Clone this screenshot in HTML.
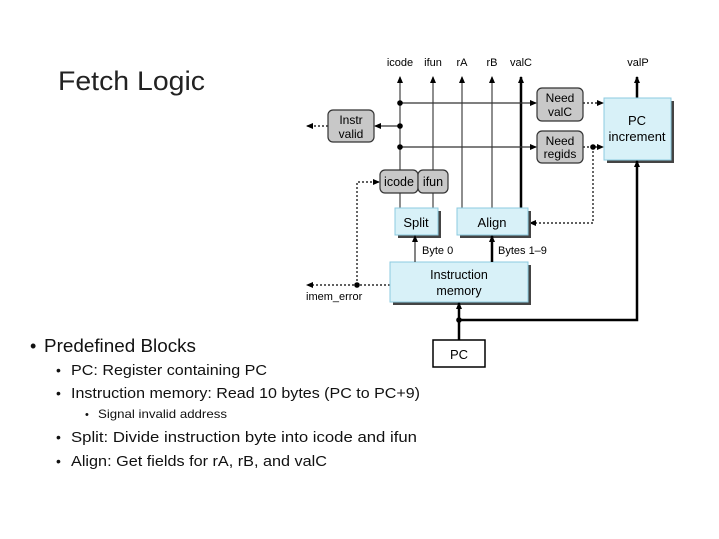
<!DOCTYPE html>
<html><head><style>
html,body{margin:0;padding:0;background:#fff;}
svg{display:block;}
</style></head><body>
<svg width="719" height="539" viewBox="0 0 719 539" xmlns="http://www.w3.org/2000/svg" font-family="Liberation Sans, Arial, sans-serif">
<defs>
<marker id="a" markerWidth="8" markerHeight="8" refX="6" refY="4" orient="auto" markerUnits="userSpaceOnUse"><path d="M0,1 L7,4 L0,7 z" fill="#000"/></marker>
</defs>
<rect width="719" height="539" fill="#fff"/>
<text x="58" y="90" font-size="27" textLength="147" lengthAdjust="spacingAndGlyphs" fill="#222">Fetch Logic</text>

<g fill="#111">
<text x="30" y="352" font-size="18">•</text>
<text x="44" y="352" font-size="18" textLength="152" lengthAdjust="spacingAndGlyphs">Predefined Blocks</text>
<text x="56" y="375" font-size="14">•</text>
<text x="71" y="375" font-size="15" textLength="196" lengthAdjust="spacingAndGlyphs">PC: Register containing PC</text>
<text x="56" y="398" font-size="14">•</text>
<text x="71" y="398" font-size="15" textLength="349" lengthAdjust="spacingAndGlyphs">Instruction memory: Read 10 bytes (PC to PC+9)</text>
<text x="85" y="418" font-size="11">•</text>
<text x="98" y="418" font-size="12" textLength="129" lengthAdjust="spacingAndGlyphs">Signal invalid address</text>
<text x="56" y="442" font-size="14">•</text>
<text x="71" y="442" font-size="15" textLength="346" lengthAdjust="spacingAndGlyphs">Split: Divide instruction byte into icode and ifun</text>
<text x="56" y="466" font-size="14">•</text>
<text x="71" y="466" font-size="15" textLength="256" lengthAdjust="spacingAndGlyphs">Align: Get fields for rA, rB, and valC</text>
</g>

<g font-size="11" text-anchor="middle" fill="#000">
<text x="400" y="66">icode</text><text x="433" y="66">ifun</text><text x="462" y="66">rA</text><text x="492" y="66">rB</text><text x="521" y="66">valC</text><text x="638" y="66">valP</text>
</g>

<g stroke="#444" stroke-width="1.2" marker-end="url(#a)">
<line x1="400" y1="208" x2="400" y2="77"/>
<line x1="433" y1="208" x2="433" y2="77"/>
<line x1="462" y1="208" x2="462" y2="77"/>
<line x1="492" y1="208" x2="492" y2="77"/>
</g>
<line x1="521" y1="208" x2="521" y2="77" stroke="#000" stroke-width="2.5" marker-end="url(#a)"/>
<line x1="637" y1="98" x2="637" y2="77" stroke="#000" stroke-width="2.5" marker-end="url(#a)"/>

<g stroke="#333" stroke-width="1.2">
<line x1="400" y1="103" x2="536" y2="103" marker-end="url(#a)"/>
<line x1="400" y1="126" x2="375" y2="126" marker-end="url(#a)"/>
<line x1="400" y1="147" x2="536" y2="147" marker-end="url(#a)"/>
</g>
<g fill="#000"><circle cx="400" cy="103" r="2.8"/><circle cx="400" cy="126" r="2.8"/><circle cx="400" cy="147" r="2.8"/></g>

<g stroke="#000" stroke-width="1.2" stroke-dasharray="2,2" fill="none">
<line x1="328" y1="126" x2="307" y2="126" marker-end="url(#a)"/>
<line x1="583" y1="103" x2="603" y2="103" marker-end="url(#a)"/>
<line x1="583" y1="147" x2="603" y2="147" marker-end="url(#a)"/>
<polyline points="593,147 593,223 530,223" marker-end="url(#a)"/>
<line x1="390" y1="285" x2="307" y2="285" marker-end="url(#a)"/>
<polyline points="357,285 357,182 379,182" marker-end="url(#a)"/>
</g>
<circle cx="593" cy="147" r="2.8"/><circle cx="357" cy="285" r="2.8"/>

<g fill="#c8c8c8" stroke="#333" stroke-width="1.2">
<rect x="537" y="88" width="46" height="33" rx="5"/>
<rect x="537" y="131" width="46" height="32" rx="5"/>
<rect x="328" y="110" width="46" height="32" rx="5"/>
<rect x="380" y="170" width="38" height="23" rx="5"/>
<rect x="418" y="170" width="30" height="23" rx="5"/>
</g>
<g font-size="12" text-anchor="middle">
<text x="560" y="102">Need</text><text x="560" y="116">valC</text>
<text x="560" y="145">Need</text><text x="560" y="158">regids</text>
<text x="351" y="124">Instr</text><text x="351" y="138">valid</text>
<text x="399" y="186" font-size="12.5">icode</text><text x="433" y="186" font-size="12.5">ifun</text>
</g>

<g fill="#444">
<rect x="607" y="101" width="67" height="62"/>
<rect x="398" y="211" width="43" height="27"/>
<rect x="460" y="211" width="71" height="27"/>
<rect x="393" y="265" width="138" height="40"/>
</g>
<g fill="#d8f1f8" stroke="#8ccbe0" stroke-width="1">
<rect x="604" y="98" width="67" height="62"/>
<rect x="395" y="208" width="43" height="27"/>
<rect x="457" y="208" width="71" height="27"/>
<rect x="390" y="262" width="138" height="40"/>
</g>
<g font-size="13" text-anchor="middle">
<text x="637" y="125">PC</text><text x="637" y="141">increment</text>
<text x="416" y="227">Split</text><text x="492" y="227">Align</text>
<text x="459" y="279" font-size="12.5">Instruction</text><text x="459" y="295" font-size="12.5">memory</text>
</g>

<line x1="415" y1="262" x2="415" y2="236" stroke="#333" stroke-width="1.2" marker-end="url(#a)"/>
<line x1="492" y1="262" x2="492" y2="236" stroke="#000" stroke-width="2.5" marker-end="url(#a)"/>
<text x="422" y="254" font-size="11">Byte 0</text>
<text x="498" y="254" font-size="11">Bytes 1–9</text>
<text x="306" y="300" font-size="11">imem_error</text>

<rect x="433" y="340" width="52" height="27" fill="#fff" stroke="#000" stroke-width="1.5"/>
<text x="459" y="359" font-size="13" text-anchor="middle">PC</text>
<line x1="459" y1="340" x2="459" y2="303" stroke="#000" stroke-width="2.5" marker-end="url(#a)"/>
<polyline points="459,320 637,320 637,161" fill="none" stroke="#000" stroke-width="2.5" marker-end="url(#a)"/>
<circle cx="459" cy="320" r="2.8"/>
</svg>
</body></html>
